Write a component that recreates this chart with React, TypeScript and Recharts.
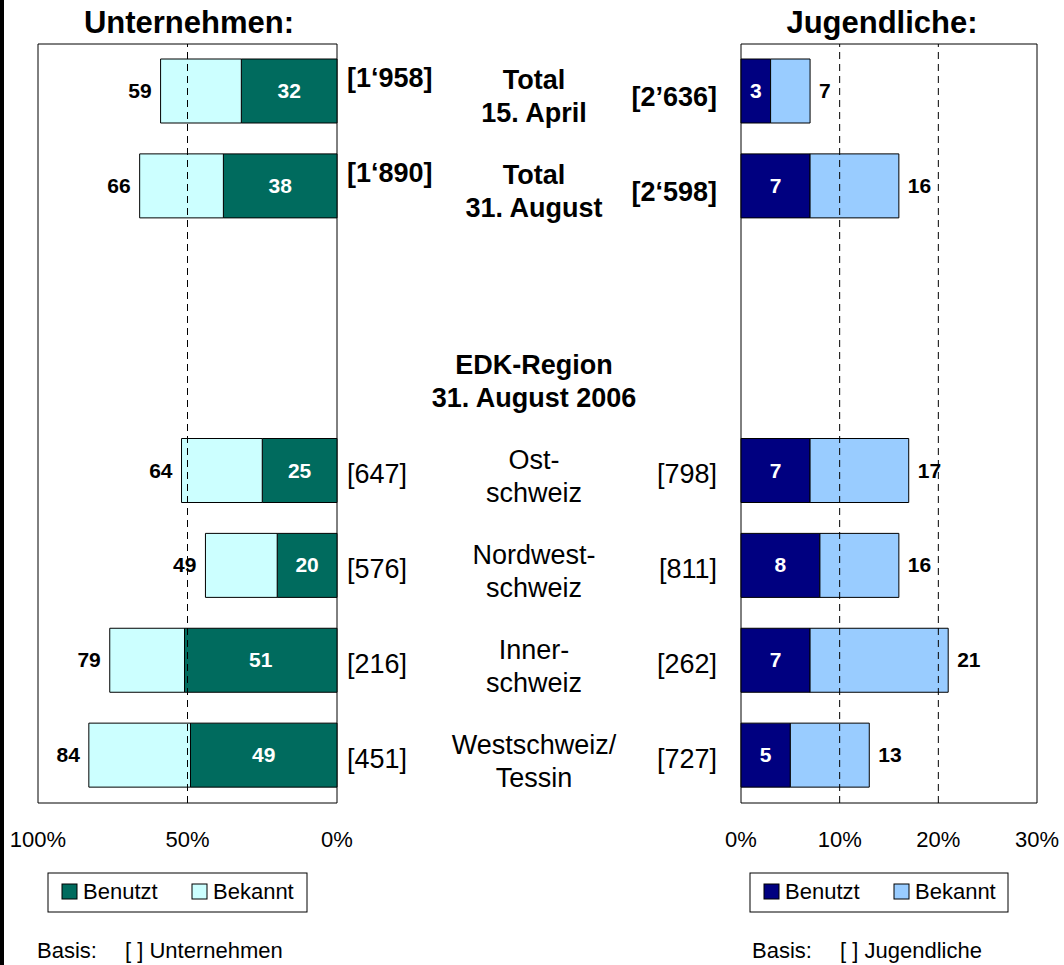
import React from "react";
import {
  BarChart,
  Bar,
  XAxis,
  YAxis,
  LabelList,
  ReferenceArea,
  ReferenceLine,
} from "recharts";

// Zeilen (von oben nach unten); Zeile 3 bleibt leer
const kategorien = [
  "Total\n15. April",
  "Total\n31. August",
  " ",
  "EDK-Region\n31. August 2006",
  "Ost-\nschweiz",
  "Nordwest-\nschweiz",
  "Inner-\nschweiz",
  "Westschweiz/\nTessin",
];
const fett = [true, true, false, true, false, false, false, false];

const basisUnternehmen = ["[1‘958]", "[1‘890]", "", "", "[647]", "[576]", "[216]", "[451]"];
const basisJugendliche = ["[2’636]", "[2‘598]", "", "", "[798]", "[811]", "[262]", "[727]"];

// Unternehmen (%)
const untBenutzt = [32, 38, null, null, 25, 20, 51, 49];
const untBekannt = [59, 66, null, null, 64, 49, 79, 84];
// Balkenlänge wie in der Vorlage gezeichnet (weicht teils vom Etikett ab)
const untBekanntBalken = [59, 66, null, null, 52, 44, 76, 83];

// Jugendliche (%)
const jugBenutzt = [3, 7, null, null, 7, 8, 7, 5];
const jugBekannt = [7, 16, null, null, 17, 16, 21, 13];

const untTicks = [0, 50, 100];
const jugTicks = [0, 10, 20, 30];

const FONT = "'Liberation Sans', Arial, sans-serif";

const UNT_DUNKEL = "#006B5E";
const UNT_HELL = "#CCFFFF";
const JUG_DUNKEL = "#000080";
const JUG_HELL = "#99CCFF";

const untData = kategorien.map((kat, i) => ({
  kat,
  benutzt: untBenutzt[i],
  rest: untBekanntBalken[i] == null ? null : untBekanntBalken[i] - untBenutzt[i],
  bekanntLabel: untBekannt[i],
}));

const jugData = kategorien.map((kat, i) => ({
  kat,
  benutzt: jugBenutzt[i],
  rest: jugBekannt[i] == null ? null : jugBekannt[i] - jugBenutzt[i],
  bekanntLabel: jugBekannt[i],
}));

function PctTick(props: any) {
  const { x, y, payload } = props;
  return (
    <text x={x} y={y + 44} textAnchor="middle" fontSize={22} fontFamily={FONT} fill="#000">
      {payload.value}%
    </text>
  );
}

// Mittlere Spalte: Basis links, Kategorie, Basis rechts
function MittelTick(props: any) {
  const { x, y, payload } = props;
  const i = kategorien.indexOf(payload.value);
  const bold = fett[i];
  const lines = String(payload.value).split("\n");
  const w = bold ? "bold" : "normal";
  return (
    <g fontFamily={FONT} fontSize={27} fill="#000">
      <text x={x + 10} y={y + (bold ? -4 : 12)} textAnchor="start" fontWeight={w}>
        {basisUnternehmen[i]}
      </text>
      <text textAnchor="middle" fontWeight={w}>
        {lines.map((l, k) => (
          <tspan key={k} x={x + 197} y={y - 2 + k * 33}>
            {l}
          </tspan>
        ))}
      </text>
      <text x={x + 380} y={y + (bold ? 15 : 12)} textAnchor="end" fontWeight={w}>
        {basisJugendliche[i]}
      </text>
    </g>
  );
}

function InnenLabel(props: any) {
  const { x, y, width, height, value } = props;
  if (value == null) return null;
  return (
    <text
      x={x + width / 2}
      y={y + height / 2 + 7}
      textAnchor="middle"
      fontSize={21}
      fontWeight="bold"
      fontFamily={FONT}
      fill="#fff"
    >
      {value}
    </text>
  );
}

function AussenLinks(props: any) {
  const { x, y, width, height, value } = props;
  if (value == null) return null;
  const links = Math.min(x, x + width);
  return (
    <text x={links - 9} y={y + height / 2 + 7} textAnchor="end" fontSize={21} fontWeight="bold" fontFamily={FONT} fill="#000">
      {value}
    </text>
  );
}

function AussenRechts(props: any) {
  const { x, y, width, height, value } = props;
  if (value == null) return null;
  const rechts = Math.max(x, x + width);
  return (
    <text x={rechts + 9} y={y + height / 2 + 7} textAnchor="start" fontSize={21} fontWeight="bold" fontFamily={FONT} fill="#000">
      {value}
    </text>
  );
}

function Legende({ x, breite, dunkel, hell }: { x: number; breite: number; dunkel: string; hell: string }) {
  return (
    <g fontFamily={FONT} fontSize={22} fill="#000">
      <rect x={x} y={873} width={breite} height={39} fill="#fff" stroke="#000" />
      <rect x={x + 14} y={884} width={15} height={15} fill={dunkel} stroke="#000" />
      <text x={x + 35} y={899}>Benutzt</text>
      <rect x={x + 144} y={884} width={15} height={15} fill={hell} stroke="#000" />
      <text x={x + 165} y={899}>Bekannt</text>
    </g>
  );
}

export default function App() {
  return (
    <div
      style={{
        position: "absolute",
        left: 0,
        top: 0,
        width: 1064,
        height: 965,
        background: "#fff",
        fontFamily: FONT,
      }}
    >
      <svg width={1064} height={965} style={{ position: "absolute", left: 0, top: 0 }}>
        <rect x={0} y={0} width={4} height={965} fill="#000" />
        <text x={189} y={33} textAnchor="middle" fontSize={31} fontWeight="bold" fontFamily={FONT}>
          Unternehmen:
        </text>
        <text x={882} y={33} textAnchor="middle" fontSize={31} fontWeight="bold" fontFamily={FONT}>
          Jugendliche:
        </text>
        <Legende x={48} breite={259} dunkel={UNT_DUNKEL} hell={UNT_HELL} />
        <Legende x={750} breite={258} dunkel={JUG_DUNKEL} hell={JUG_HELL} />
        <g fontFamily={FONT} fontSize={22}>
          <text x={37} y={958}>Basis:</text>
          <text x={125} y={958}>[ ] Unternehmen</text>
          <text x={752} y={958}>Basis:</text>
          <text x={840} y={958}>[ ] Jugendliche</text>
        </g>
      </svg>

      <div style={{ position: "absolute", left: 0, top: 0 }}>
        <BarChart
          width={740}
          height={853}
          layout="vertical"
          data={untData}
          margin={{ top: 44, right: 0, left: 38, bottom: 0 }}
          barSize={64}
        >
          <XAxis
            type="number"
            domain={[0, 100]}
            reversed
            ticks={untTicks}
            interval={0}
            tickSize={0}
            tickMargin={0}
            height={50}
            axisLine={false}
            tick={<PctTick />}
          />
          <YAxis
            type="category"
            dataKey="kat"
            orientation="right"
            width={403}
            interval={0}
            axisLine={false}
            tickLine={false}
            tickSize={0}
            tickMargin={0}
            tick={(p: any) => <MittelTick {...p} />}
          />
          {untTicks.slice(1, -1).map((t) => (
            <ReferenceLine key={t} x={t} stroke="#000" strokeDasharray="7 5" />
          ))}
          <Bar dataKey="benutzt" stackId="u" fill={UNT_DUNKEL} stroke="#000" isAnimationActive={false}>
            <LabelList dataKey="benutzt" content={<InnenLabel />} />
          </Bar>
          <Bar dataKey="rest" stackId="u" fill={UNT_HELL} stroke="#000" isAnimationActive={false}>
            <LabelList dataKey="bekanntLabel" content={<AussenLinks />} />
          </Bar>
          <ReferenceArea x1={0} x2={100} fill="none" fillOpacity={0} stroke="#000" strokeWidth={1} />
        </BarChart>
      </div>

      <div style={{ position: "absolute", left: 700, top: 0 }}>
        <BarChart
          width={364}
          height={853}
          layout="vertical"
          data={jugData}
          margin={{ top: 44, right: 27, left: 41, bottom: 0 }}
          barSize={64}
        >
          <XAxis
            type="number"
            domain={[0, 30]}
            ticks={jugTicks}
            interval={0}
            tickSize={0}
            tickMargin={0}
            height={50}
            axisLine={false}
            tick={<PctTick />}
          />
          <YAxis type="category" dataKey="kat" hide />
          {jugTicks.slice(1, -1).map((t) => (
            <ReferenceLine key={t} x={t} stroke="#000" strokeDasharray="7 5" />
          ))}
          <Bar dataKey="benutzt" stackId="j" fill={JUG_DUNKEL} stroke="#000" isAnimationActive={false}>
            <LabelList dataKey="benutzt" content={<InnenLabel />} />
          </Bar>
          <Bar dataKey="rest" stackId="j" fill={JUG_HELL} stroke="#000" isAnimationActive={false}>
            <LabelList dataKey="bekanntLabel" content={<AussenRechts />} />
          </Bar>
          <ReferenceArea x1={0} x2={30} fill="none" fillOpacity={0} stroke="#000" strokeWidth={1} />
        </BarChart>
      </div>
    </div>
  );
}
